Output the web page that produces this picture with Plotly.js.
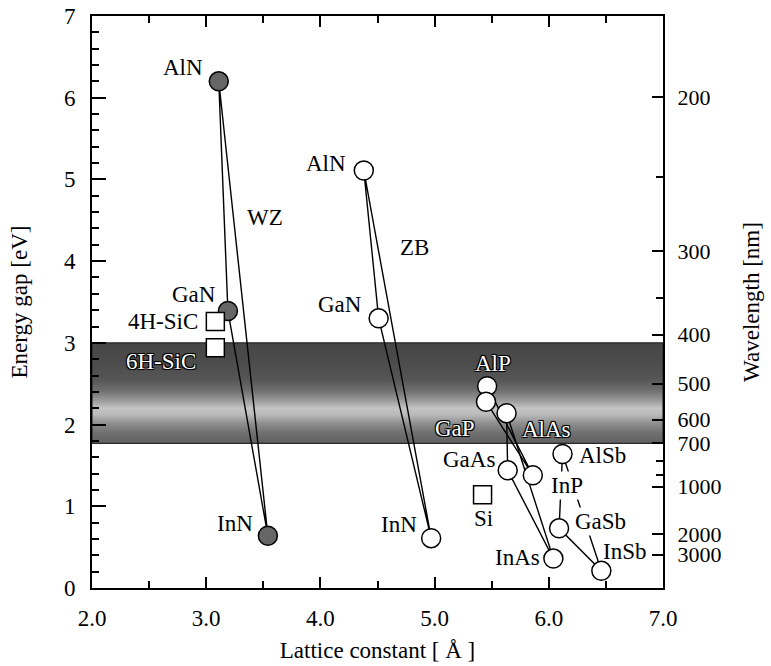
<!DOCTYPE html>
<html>
<head>
<meta charset="utf-8">
<script src="https://cdn.plot.ly/plotly-3.0.1.min.js"></script>
<style>html,body{margin:0;padding:0;background:#fff}#chart{width:771px;height:666px}</style>
</head>
<body>
<div id="chart"></div>
<script>
// ---------------- data ----------------
// Wurtzite nitrides (filled circles)
const wzNames   = ['AlN', 'GaN', 'InN'];
const wzLattice = [3.11, 3.19, 3.54];
const wzGap     = [6.20, 3.39, 0.64];

// Zinc-blende nitrides (open circles)
const zbNames   = ['AlN', 'GaN', 'InN'];
const zbLattice = [4.38, 4.51, 4.97];
const zbGap     = [5.11, 3.30, 0.61];

// Conventional III-V compounds (open circles)
const iiiVNames   = ['AlP', 'GaP', 'AlAs', 'GaAs', 'InP', 'AlSb', 'GaSb', 'InAs', 'InSb'];
const iiiVLattice = [5.46, 5.45, 5.63, 5.64, 5.86, 6.12, 6.09, 6.04, 6.46];
const iiiVGap     = [2.47, 2.28, 2.14, 1.44, 1.38, 1.64, 0.73, 0.36, 0.21];

// Reference semiconductors (open squares)
const refNames   = ['4H-SiC', '6H-SiC', 'Si'];
const refLattice = [3.08, 3.08, 5.42];
const refGap     = [3.26, 2.94, 1.14];

// Alloy tie lines (closed triangles per family)
const wzTies   = [['AlN', 'GaN', 'InN', 'AlN']];
const zbTies   = [['AlN', 'GaN', 'InN', 'AlN']];
const iiiVTies = [['AlP', 'GaP', 'InP', 'AlP'], ['AlAs', 'GaAs', 'InAs', 'AlAs'], ['AlSb', 'GaSb', 'InSb', 'AlSb']];

// Visible-light band (energy rows and grey level of the shading)
const bandEnergy = [1.77, 1.90, 2.02, 2.12, 2.20, 2.30, 2.42, 2.55, 2.75, 3.00];
const bandGray   = [96, 112, 144, 186, 196, 152, 110, 86, 76, 70];

// Axis ticks
const xRange = [2, 7];
const yRange = [0, 7];
const wlMajorLabels = ['200', '300', '400', '500', '600', '700', '1000', '2000', '3000'];
const wlMajorEnergy = [6.01, 4.12, 3.10, 2.50, 2.06, 1.77, 1.24, 0.66, 0.41];
const wlMinorLabels = ['250', '350', '800', '900'];
const wlMinorEnergy = [5.03, 3.55, 1.55, 1.38];

// ---------------- styling / placement ----------------
const FONT = 'Liberation Serif';
const FS = 23;
const whiteShadow = '-1px -1px 0 #000, 1px -1px 0 #000, -1px 1px 0 #000, 1px 1px 0 #000, 0 0 2px #000';

// label placement: pixel shifts from the marker
const place = {
  'wz:AlN':  {xs: -14, ys: 14, a: 'right'},
  'wz:GaN':  {xs: -10, ys: 16, a: 'right'},
  'wz:InN':  {xs: -13, ys: 12, a: 'right'},
  'zb:AlN':  {xs: -16, ys: 7,  a: 'right'},
  'zb:GaN':  {xs: -15, ys: 14, a: 'right'},
  'zb:InN':  {xs: -12, ys: 14, a: 'right'},
  'v:AlP':   {xs: 6,   ys: 23, a: 'center', white: true},
  'v:GaP':   {xs: -9,  ys: -27, a: 'right', white: true},
  'v:AlAs':  {xs: 13,  ys: -16, a: 'left', white: true},
  'v:GaAs':  {xs: -11, ys: 11, a: 'right'},
  'v:InP':   {xs: 16,  ys: -10, a: 'left', bg: true},
  'v:AlSb':  {xs: 14,  ys: -2, a: 'left'},
  'v:GaSb':  {xs: 14,  ys: 7,  a: 'left', bg: true},
  'v:InAs':  {xs: -11, ys: 1,  a: 'right'},
  'v:InSb':  {xs: 0,   ys: 19, a: 'left'},
  'r:4H-SiC':{xs: -15, ys: 0,  a: 'right'},
  'r:6H-SiC':{xs: -17, ys: -14, a: 'right', white: true},
  'r:Si':    {xs: 1,   ys: -24, a: 'center'}
};
const structureLabels = [
  {text: 'WZ', x: 3.515, y: 4.54},
  {text: 'ZB', x: 4.82, y: 4.17}
];

// ---------------- build traces ----------------
function tieTrace(names, lat, gap, ties) {
  const xs = [], ys = [];
  ties.forEach(path => {
    path.forEach(n => { const i = names.indexOf(n); xs.push(lat[i]); ys.push(gap[i]); });
    xs.push(null); ys.push(null);
  });
  return {x: xs, y: ys, mode: 'lines', line: {color: '#000', width: 1.4}, hoverinfo: 'skip', showlegend: false};
}

const lo = bandEnergy[0], hi = bandEnergy[bandEnergy.length - 1];
const bandScale = bandEnergy.map((e, i) => [(e - lo) / (hi - lo), `rgb(${bandGray[i]},${bandGray[i]},${bandGray[i]})`]);

const traces = [
  {
    x: [xRange[0], xRange[1], xRange[1], xRange[0], xRange[0]],
    y: [lo, lo, hi, hi, lo],
    mode: 'lines', fill: 'toself',
    fillgradient: {type: 'vertical', colorscale: bandScale, start: lo, stop: hi},
    line: {color: '#2a2a2a', width: 1.2},
    hoverinfo: 'skip', showlegend: false
  },
  tieTrace(wzNames, wzLattice, wzGap, wzTies),
  tieTrace(zbNames, zbLattice, zbGap, zbTies),
  tieTrace(iiiVNames, iiiVLattice, iiiVGap, iiiVTies),
  {x: wzLattice, y: wzGap, text: wzNames, mode: 'markers', showlegend: false,
   marker: {size: 19, color: '#666', line: {color: '#000', width: 1.5}}},
  {x: zbLattice, y: zbGap, text: zbNames, mode: 'markers', showlegend: false,
   marker: {size: 19, color: '#fff', line: {color: '#000', width: 1.5}}},
  {x: iiiVLattice, y: iiiVGap, text: iiiVNames, mode: 'markers', showlegend: false,
   marker: {size: 19, color: '#fff', line: {color: '#000', width: 1.5}}},
  {x: refLattice, y: refGap, text: refNames, mode: 'markers', showlegend: false,
   marker: {symbol: 'square', size: 18, color: '#fff', line: {color: '#000', width: 1.5}}},
  // carriers so the wavelength axes are drawn (invisible)
  {x: wzLattice, y: wzGap, yaxis: 'y2', mode: 'markers', marker: {opacity: 0}, hoverinfo: 'skip', showlegend: false},
  {x: wzLattice, y: wzGap, yaxis: 'y3', mode: 'markers', marker: {opacity: 0}, hoverinfo: 'skip', showlegend: false}
];

// ---------------- annotations ----------------
const annotations = [];
function addLabels(prefix, names, lat, gap) {
  names.forEach((n, i) => {
    const p = place[prefix + ':' + n];
    const font = {family: FONT, size: FS, color: p.white ? '#fff' : '#000'};
    if (p.white) font.shadow = whiteShadow;
    const ann = {x: lat[i], y: gap[i], text: n, showarrow: false, xanchor: p.a, yanchor: 'middle',
                 xshift: p.xs, yshift: p.ys, font: font};
    if (p.bg) { ann.bgcolor = '#fff'; ann.borderpad = 1; }
    annotations.push(ann);
  });
}
addLabels('wz', wzNames, wzLattice, wzGap);
addLabels('zb', zbNames, zbLattice, zbGap);
addLabels('v', iiiVNames, iiiVLattice, iiiVGap);
addLabels('r', refNames, refLattice, refGap);
structureLabels.forEach(s => annotations.push({x: s.x, y: s.y, text: s.text, showarrow: false,
  font: {family: FONT, size: FS, color: '#000'}}));

// ---------------- layout ----------------
const tickFont = (size) => ({family: FONT, size: size || FS, color: '#000'});
const layout = {
  width: 771, height: 666,
  margin: {l: 92, r: 108, t: 16, b: 78},
  paper_bgcolor: '#fff', plot_bgcolor: '#fff',
  showlegend: false,
  font: {family: FONT, size: FS, color: '#000'},
  xaxis: {
    range: xRange, showgrid: false, zeroline: false,
    showline: true, linecolor: '#000', linewidth: 2, mirror: 'ticks',
    ticks: 'inside', ticklen: 11, tickwidth: 2, tickcolor: '#000',
    tick0: 2, dtick: 1, tickformat: '.1f', tickfont: tickFont(), ticklabelstandoff: 8,
    minor: {dtick: 0.5, ticks: 'inside', ticklen: 7, tickwidth: 2, tickcolor: '#000'},
    title: {text: 'Lattice constant [ Å ]', font: tickFont(), standoff: 12}
  },
  yaxis: {
    range: yRange, showgrid: false, zeroline: false,
    showline: true, linecolor: '#000', linewidth: 2,
    ticks: 'inside', ticklen: 14, tickwidth: 2, tickcolor: '#000',
    tick0: 0, dtick: 1, tickformat: 'd', tickfont: tickFont(), ticklabelstandoff: 10,
    minor: {dtick: 0.2, ticks: 'inside', ticklen: 7, tickwidth: 2, tickcolor: '#000'},
    title: {text: 'Energy gap [eV]', font: tickFont(), standoff: 30}
  },
  yaxis2: {
    overlaying: 'y', side: 'right', range: yRange, showgrid: false, zeroline: false,
    showline: true, linecolor: '#000', linewidth: 2,
    tickmode: 'array', tickvals: wlMajorEnergy, ticktext: wlMajorLabels,
    ticks: 'inside', ticklen: 11, tickwidth: 2, tickcolor: '#000', tickfont: tickFont(22),
    ticklabelstandoff: 8,
    title: {text: 'Wavelength [nm]', font: tickFont(), standoff: 22}
  },
  yaxis3: {
    overlaying: 'y', side: 'right', range: yRange, showgrid: false, zeroline: false,
    showline: false, tickmode: 'array', tickvals: wlMinorEnergy, ticktext: wlMinorLabels,
    showticklabels: false, ticks: 'inside', ticklen: 7, tickwidth: 2, tickcolor: '#000'
  },
  annotations: annotations
};

Plotly.newPlot('chart', traces, layout, {staticPlot: true, displayModeBar: false});
</script>
</body>
</html>
